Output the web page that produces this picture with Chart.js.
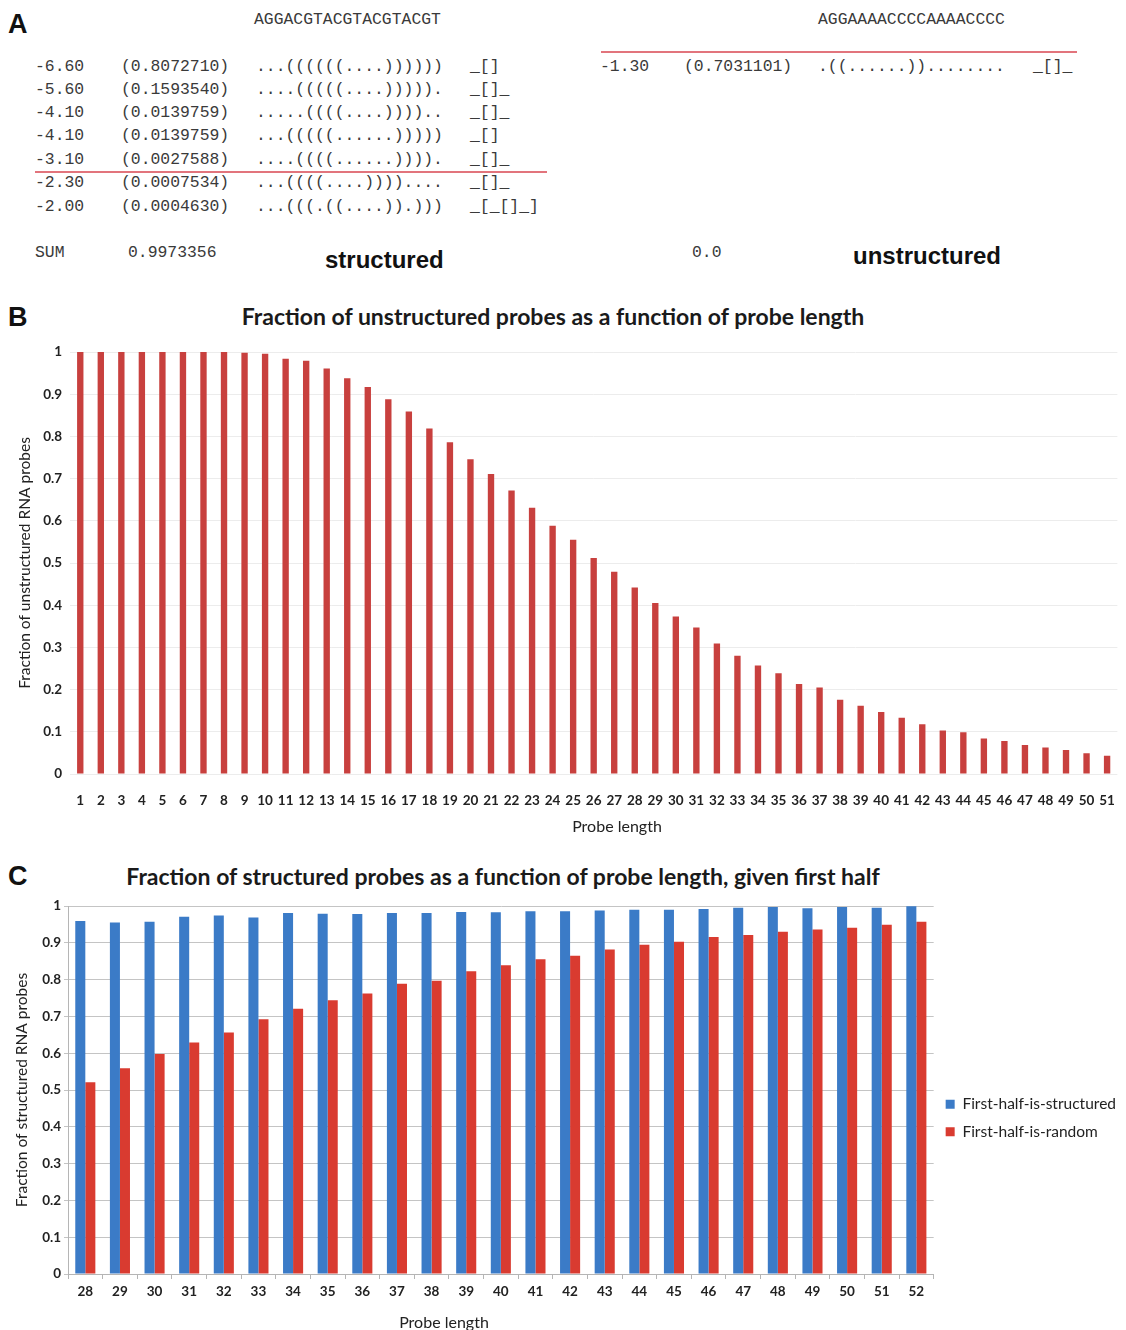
<!DOCTYPE html>
<html>
<head>
<meta charset="utf-8">
<script src="https://cdn.jsdelivr.net/npm/chart.js@4.4.1/dist/chart.umd.min.js"></script>
<style>
body { margin:0; background:#fff; width:1126px; height:1330px; position:relative; overflow:hidden; }
.t { position:absolute; white-space:pre; }
.mono { font-family:"Liberation Mono", "Courier New", monospace; font-size:16.4px; color:#3a3a3a; line-height:20px; }
.lbl { font-family:"Liberation Sans", Arial, sans-serif; font-weight:bold; font-size:27px; color:#111; line-height:30px; }
.big { font-family:"Liberation Sans", Arial, sans-serif; font-weight:bold; font-size:24px; color:#111; line-height:28px; }
.ttl { font-family:Lato, sans-serif; font-weight:bold; font-size:23px; color:#1a1a1a; line-height:26px; transform:translateX(-50%); }
.axt { font-family:Lato, sans-serif; font-size:16px; color:#222; line-height:20px; transform:translateX(-50%); }
.redline { position:absolute; height:2px; background:#e2747c; }
canvas { position:absolute; left:0; }
</style>
</head>
<body>
<div id="panelA"></div>
<div class="t lbl" style="left:8px;top:302px;">B</div>
<div class="t ttl" style="left:553px;top:303px;">Fraction of unstructured probes as a function of probe length</div>
<canvas id="chartB" width="1126" height="540" style="top:300px;"></canvas>
<div class="t axt" style="left:617px;top:816px;">Probe length</div>
<div class="t lbl" style="left:8px;top:861px;">C</div>
<div class="t ttl" style="left:503px;top:863px;">Fraction of structured probes as a function of probe length, given first half</div>
<canvas id="chartC" width="1126" height="440" style="top:890px;"></canvas>
<div class="t axt" style="left:444px;top:1312px;">Probe length</div>
<script>
// panel A: RNAsubopt style listings
var seqStructured = 'AGGACGTACGTACGTACGT';
var energyStructured = ['-6.60', '-5.60', '-4.10', '-4.10', '-3.10', '-2.30', '-2.00'];
var probStructured = ['(0.8072710)', '(0.1593540)', '(0.0139759)', '(0.0139759)', '(0.0027588)', '(0.0007534)', '(0.0004630)'];
var foldStructured = ['...((((((....))))))', '....(((((....))))).', '.....((((....))))..', '...(((((......)))))', '....((((......)))).', '...((((....))))....', '...(((.((....)).)))'];
var shapeStructured = ['_[]', '_[]_', '_[]_', '_[]', '_[]_', '_[]_', '_[_[]_]'];
var sumStructured = '0.9973356';

var seqUnstructured = 'AGGAAAACCCCAAAACCCC';
var energyUnstructured = ['-1.30'];
var probUnstructured = ['(0.7031101)'];
var foldUnstructured = ['.((......))........'];
var shapeUnstructured = ['_[]_'];
var sumUnstructured = '0.0';

// panel B
var probeLengthsB = ['1','2','3','4','5','6','7','8','9','10','11','12','13','14','15','16','17','18','19','20','21','22','23','24','25','26','27','28','29','30','31','32','33','34','35','36','37','38','39','40','41','42','43','44','45','46','47','48','49','50','51'];
var fractionUnstructured = [1, 1, 1, 1, 1, 1, 1, 1, 0.998, 0.996, 0.984, 0.979, 0.961, 0.938, 0.917, 0.888, 0.859, 0.819, 0.786, 0.746, 0.711, 0.672, 0.631, 0.588, 0.555, 0.512, 0.479, 0.442, 0.405, 0.373, 0.347, 0.309, 0.280, 0.257, 0.239, 0.213, 0.205, 0.176, 0.162, 0.147, 0.133, 0.118, 0.103, 0.099, 0.084, 0.078, 0.069, 0.063, 0.057, 0.049, 0.043];

// panel C
var probeLengthsC = ['28','29','30','31','32','33','34','35','36','37','38','39','40','41','42','43','44','45','46','47','48','49','50','51','52'];
var firstHalfStructured = [0.959, 0.955, 0.957, 0.971, 0.974, 0.969, 0.981, 0.979, 0.978, 0.981, 0.981, 0.984, 0.983, 0.986, 0.986, 0.988, 0.990, 0.990, 0.992, 0.995, 0.997, 0.994, 0.997, 0.995, 0.999];
var firstHalfRandom = [0.521, 0.559, 0.598, 0.629, 0.656, 0.692, 0.721, 0.744, 0.762, 0.789, 0.797, 0.823, 0.839, 0.855, 0.865, 0.882, 0.895, 0.903, 0.916, 0.921, 0.930, 0.936, 0.941, 0.949, 0.957];

function addText(cls, txt, x, y) {
    var d = document.createElement('div');
    d.className = 't ' + cls;
    d.style.left = x + 'px';
    d.style.top = y + 'px';
    d.textContent = txt;
    document.getElementById('panelA').appendChild(d);
}
function addLine(x1, x2, y) {
    var d = document.createElement('div');
    d.className = 'redline';
    d.style.left = x1 + 'px';
    d.style.width = (x2 - x1) + 'px';
    d.style.top = y + 'px';
    document.getElementById('panelA').appendChild(d);
}

addText('lbl', 'A', 8, 9);
addText('mono', seqStructured, 254, 10);
addText('mono', seqUnstructured, 818, 10);
var rowY = [57, 80, 103, 126, 150, 173, 197];
for (var i = 0; i < energyStructured.length; i++) {
    addText('mono', energyStructured[i], 35, rowY[i]);
    addText('mono', probStructured[i], 121, rowY[i]);
    addText('mono', foldStructured[i], 256, rowY[i]);
    addText('mono', shapeStructured[i], 470, rowY[i]);
}
for (var j = 0; j < energyUnstructured.length; j++) {
    addText('mono', energyUnstructured[j], 600, rowY[j]);
    addText('mono', probUnstructured[j], 684, rowY[j]);
    addText('mono', foldUnstructured[j], 818, rowY[j]);
    addText('mono', shapeUnstructured[j], 1033, rowY[j]);
}
addLine(35, 547, 171);
addLine(601, 1077, 51);
addText('mono', 'SUM', 35, 243);
addText('mono', sumStructured, 128, 243);
addText('mono', sumUnstructured, 692, 243);
addText('big', 'structured', 325, 246);
addText('big', 'unstructured', 853, 242);

Chart.defaults.font.family = 'Lato';
Chart.defaults.color = '#222';

const chartB = new Chart(document.getElementById('chartB'), {
    type: 'bar',
    data: {
        labels: probeLengthsB,
        datasets: [{
            data: fractionUnstructured,
            backgroundColor: '#c8403e',
            categoryPercentage: 0.31,
            barPercentage: 1
        }]
    },
    options: {
        responsive: false,
        animation: false,
        devicePixelRatio: 1,
        layout: { padding: { top: 52, right: 8, left: 0, bottom: 0 } },
        plugins: { legend: { display: false }, tooltip: { enabled: false } },
        scales: {
            x: {
                grid: { display: false },
                border: { display: false },
                ticks: { font: { size: 13.5, weight: 'bold' }, color: '#222', padding: 11, maxRotation: 0, autoSkip: false },
                afterFit: function (s) { s.height = 66; }
            },
            y: {
                min: 0,
                max: 1,
                ticks: { stepSize: 0.1, font: { size: 13.5, weight: 'bold' }, color: '#222', padding: 8,
                    callback: function (v) { return +v.toFixed(1); } },
                grid: { color: '#ececec', drawTicks: false },
                border: { display: false },
                title: { display: true, text: 'Fraction of unstructured RNA probes', font: { size: 15.5 }, color: '#222', padding: { top: 16, bottom: 0 } },
                afterFit: function (s) { s.width = 70; }
            }
        }
    }
});

const chartC = new Chart(document.getElementById('chartC'), {
    type: 'bar',
    data: {
        labels: probeLengthsC,
        datasets: [{
            label: 'First-half-is-structured',
            data: firstHalfStructured,
            backgroundColor: '#3b7bc7',
            categoryPercentage: 0.58,
            barPercentage: 1
        }, {
            label: 'First-half-is-random',
            data: firstHalfRandom,
            backgroundColor: '#d93b30',
            categoryPercentage: 0.58,
            barPercentage: 1
        }]
    },
    options: {
        responsive: false,
        animation: false,
        devicePixelRatio: 1,
        layout: { padding: { top: 16, right: 0, left: 0, bottom: 0 } },
        plugins: {
            tooltip: { enabled: false },
            legend: {
                position: 'right',
                labels: { boxWidth: 9, boxHeight: 9, padding: 12, font: { size: 15.5 }, color: '#222' }
            }
        },
        scales: {
            x: {
                grid: { display: true, drawOnChartArea: false, drawTicks: true, tickLength: 5, color: '#b5b5b5' },
                border: { display: true, color: '#b5b5b5' },
                ticks: { font: { size: 13.5, weight: 'bold' }, color: '#222', padding: 5, maxRotation: 0, autoSkip: false },
                afterFit: function (s) { s.height = 56; }
            },
            y: {
                min: 0,
                max: 1,
                ticks: { stepSize: 0.1, font: { size: 13.5, weight: 'bold' }, color: '#222', padding: 3,
                    callback: function (v) { return +v.toFixed(1); } },
                grid: { color: '#c4c4c4', drawTicks: true, tickLength: 4 },
                border: { display: true, color: '#b5b5b5' },
                title: { display: true, text: 'Fraction of structured RNA probes', font: { size: 15.5 }, color: '#222', padding: { top: 13, bottom: 0 } },
                afterFit: function (s) { s.width = 68; }
            }
        }
    }
});
</script>
</body>
</html>
